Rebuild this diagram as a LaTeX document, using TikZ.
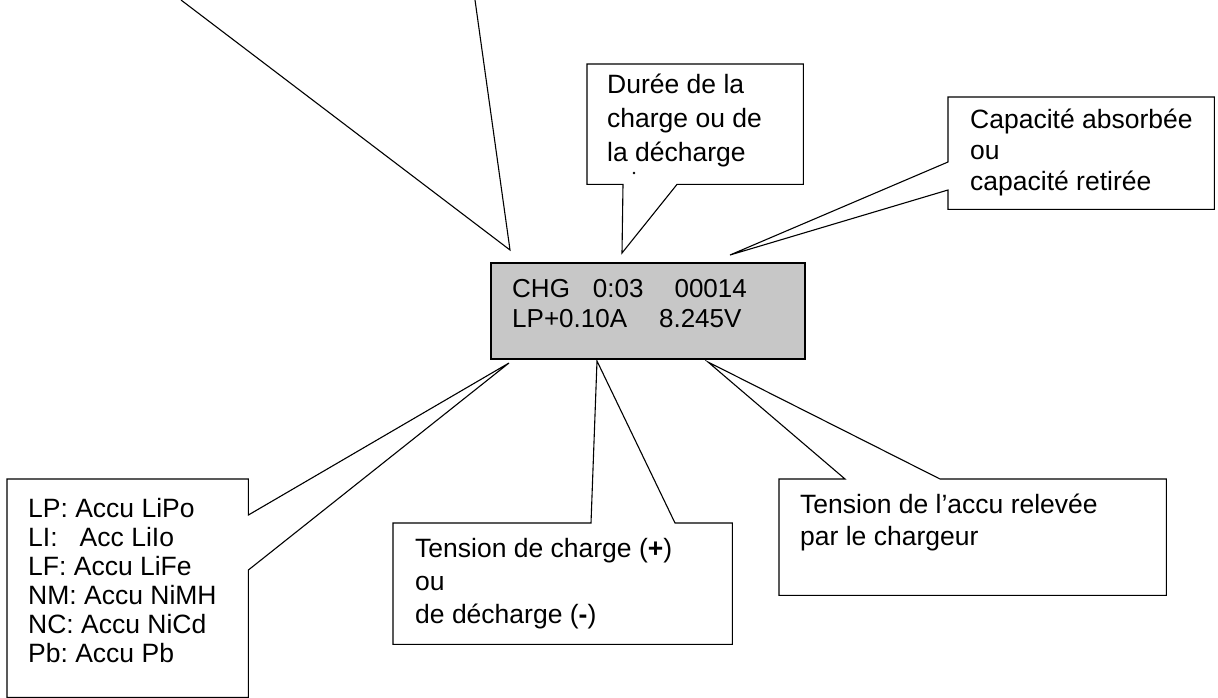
\documentclass[tikz,border=0pt]{standalone}
\usepackage{fontspec}
\setmainfont{Liberation Sans}
\usetikzlibrary{calc}
\frenchspacing
\tikzset{
  bulle/.style={line width=1.1pt, line join=miter},
  cadre/.style={rectangle, inner sep=0pt, anchor=north west},
  texte/.style={anchor=base west, align=left, inner sep=0pt},
}
\newcommand{\taille}[1]{\fontsize{26.5}{#1}\selectfont}
\begin{document}
\begin{tikzpicture}[x=1pt, y=-1pt]
  \useasboundingbox (0,0) rectangle (1218,698);
  % Afficheur
  \node[cadre, draw, line width=1.5pt, fill=black!22, minimum width=314pt, minimum height=96pt] (lcd) at (490,262) {};
  \node[texte, font=\fontsize{26}{30}\selectfont] (lcdtxt) at (512,327) {CHG\hspace{23pt}0:03\hspace{31pt}00014\\LP+0.10A\hspace{32pt}8.245V};
  % Bulle en haut (hors cadre)
  \coordinate (hautA) at (181,0);
  \coordinate (hautB) at (475,0);
  \coordinate (hautpointe) at (510,250);
  \draw[bulle] (hautA) -- (hautpointe) -- (hautB);
  % Duree
  \node[cadre, minimum width=216pt, minimum height=120pt] (duree) at (587,64) {};
  \coordinate (dureepointe) at (622,253);
  \draw[bulle] (duree.south west) -- (duree.north west) -- (duree.north east) -- (duree.south east)
    -- ($(duree.south west)+(90,0)$) -- (dureepointe) -- ($(duree.south west)+(36,0)$) -- cycle;
  \node[texte, font=\taille{34}] (dureetxt) at (607,161) {Durée de la\\charge ou de\\la décharge};
  \fill (634,173) circle (1.3pt);
  % Capacite
  \node[cadre, minimum width=266pt, minimum height=112pt] (capa) at (948,97) {};
  \coordinate (capapointe) at (730,255);
  \draw[bulle] (capa.north west) -- (capa.north east) -- (capa.south east) -- (capa.south west)
    -- ($(capa.north west)+(0,93)$) -- (capapointe) -- ($(capa.north west)+(0,65)$) -- cycle;
  \node[texte, font=\taille{31}] (capatxt) at (970,190) {Capacité absorbée\\ou\\capacité retirée};
  % Types d'accus
  \node[cadre, minimum width=241pt, minimum height=218pt] (types) at (7,479) {};
  \coordinate (typespointe) at (509,363);
  \draw[bulle] (types.north west) -- (types.north east) -- ($(types.north east)+(0,36)$) -- (typespointe)
    -- ($(types.north east)+(0,91)$) -- (types.south east) -- (types.south west) -- cycle;
  \node[texte, font=\taille{29}] (typestxt) at (28,662) {LP: Accu LiPo\\LI:\ \ \ Acc LiIo\\LF: Accu LiFe\\NM: Accu NiMH\\NC: Accu NiCd\\Pb: Accu Pb};
  % Tension de charge
  \node[cadre, minimum width=339pt, minimum height=121pt] (tch) at (393,523) {};
  \coordinate (tchpointe) at (597,361);
  \draw[bulle] (tch.north west) -- ($(tch.north west)+(198,0)$) -- (tchpointe) -- ($(tch.north west)+(282,0)$)
    -- (tch.north east) -- (tch.south east) -- (tch.south west) -- cycle;
  \node[texte, font=\taille{33}] (tchtxt) at (415,623) {Tension de charge (\textbf{+})\\ou\\de décharge (\textbf{-})};
  % Tension de l'accu
  \node[cadre, minimum width=387pt, minimum height=116pt] (taccu) at (779,479) {};
  \coordinate (taccupointe) at (708,362);
  \draw[bulle] (taccu.north west) -- ($(taccu.north west)+(66,0)$) -- (taccupointe) -- ($(taccu.north west)+(161,0)$)
    -- (taccu.north east) -- (taccu.south east) -- (taccu.south west) -- cycle;
  \node[texte, font=\taille{32}] (taccutxt) at (800,545) {Tension de l’accu relevée\\par le chargeur};
\end{tikzpicture}
\end{document}
